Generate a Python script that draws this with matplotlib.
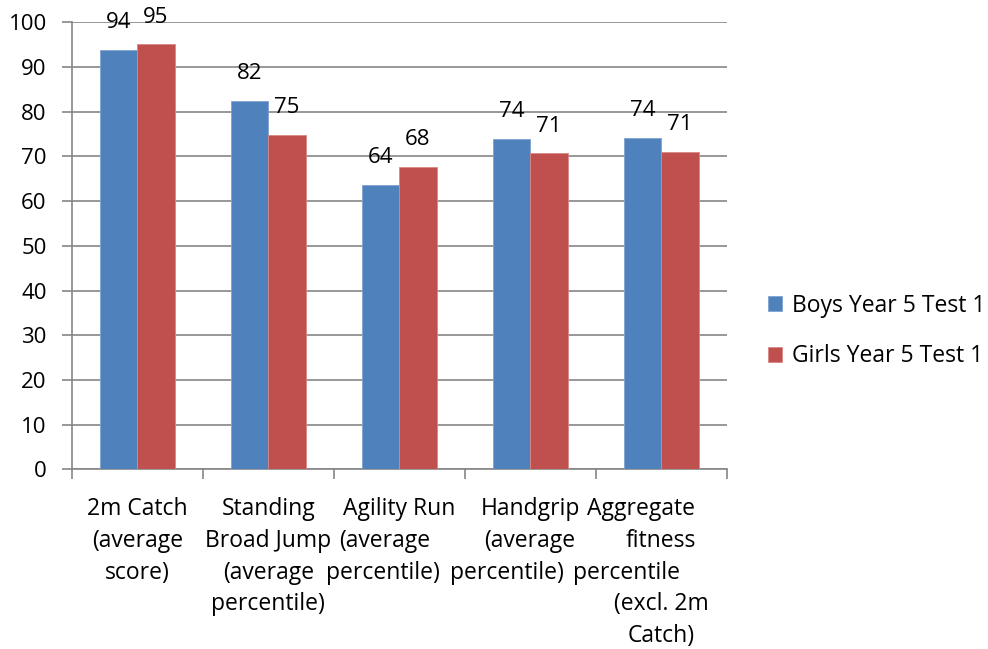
import matplotlib
matplotlib.use("Agg")
import matplotlib.pyplot as plt
import numpy as np

# category labels, one list of wrapped lines per category
categories = [
    ["2m Catch", "(average", "score)"],
    ["Standing", "Broad Jump", "(average", "percentile)"],
    ["Agility Run", "(average", "percentile)"],
    ["Handgrip", "(average", "percentile)"],
    ["Aggregate", "fitness", "percentile", "(excl. 2m", "Catch)"],
]
series_names = ["Boys Year 5 Test 1", "Girls Year 5 Test 1"]
boys = [93.8, 82.4, 63.6, 74.0, 74.1]
girls = [95.1, 74.8, 67.6, 70.7, 71.0]
y_ticks = list(range(0, 101, 10))

# horizontal nudges (pixels) applied to individual wrapped label lines
line_shift = [
    [0, 0, 0],
    [0, 0, 0, 0],
    [0, -15, -16],
    [0, -1, -23],
    [-20, 0, -35, 0, 0],
]

BLUE = "#4F81BD"
RED = "#C0504D"
GRID = "#868686"
FONT = "Open Sans"
FS_NUM = 16
FS_TXT = 16.5

plt.rcParams["font.family"] = [FONT, "DejaVu Sans"]

fig = plt.figure(figsize=(9.88, 6.49), dpi=100)
ax = fig.add_axes([0.0726, 0.2769, 0.663, 0.6887])

x = np.arange(len(categories))
w = 0.285
b1 = ax.bar(x - w / 2, boys, w, color=BLUE, edgecolor="#7fa3d0", linewidth=0.6, label=series_names[0], zorder=3)
b2 = ax.bar(x + w / 2, girls, w, color=RED, edgecolor="#d98886", linewidth=0.6, label=series_names[1], zorder=3)

for bars in (b1, b2):
    ax.bar_label(bars, labels=[f"{v:.0f}" for v in bars.datavalues],
                 padding=12, fontsize=FS_NUM, color="black")

ax.set_xlim(-0.5, len(categories) - 0.5)
ax.set_ylim(0, 100)
ax.set_yticks(y_ticks)
ax.yaxis.grid(True, color=GRID, linewidth=1.2, zorder=0)
ax.set_axisbelow(True)

# tick marks on category boundaries
ax.set_xticks(np.arange(-0.5, len(categories), 1.0))
ax.set_xticklabels([])
ax.tick_params(axis="x", which="major", length=7, color=GRID, width=1.2, direction="out")
ax.tick_params(axis="y", length=7, color=GRID, width=1.2, labelsize=FS_NUM, pad=11)

# wrapped category labels, drawn line by line below the axis
first_baseline = 46
line_step = 31.7
for xi, lines, shifts in zip(x, categories, line_shift):
    for i, (txt, dx) in enumerate(zip(lines, shifts)):
        ax.annotate(txt, xy=(xi, 0), xycoords=("data", "axes fraction"),
                    xytext=(dx, -(first_baseline + i * line_step)),
                    textcoords="offset pixels", ha="center", va="baseline",
                    fontsize=FS_TXT, color="black", annotation_clip=False)

for side in ("top", "right"):
    ax.spines[side].set_visible(False)
for side in ("left", "bottom"):
    ax.spines[side].set_color(GRID)
    ax.spines[side].set_linewidth(1.2)

fig.legend(handles=[b1, b2], labels=series_names, loc="center left",
           bbox_to_anchor=(0.777, 0.490), frameon=False, fontsize=FS_TXT,
           handlelength=0.62, handleheight=0.62, handletextpad=0.45,
           labelspacing=1.15, borderaxespad=0, borderpad=0)

fig.savefig("out.png", dpi=100)
